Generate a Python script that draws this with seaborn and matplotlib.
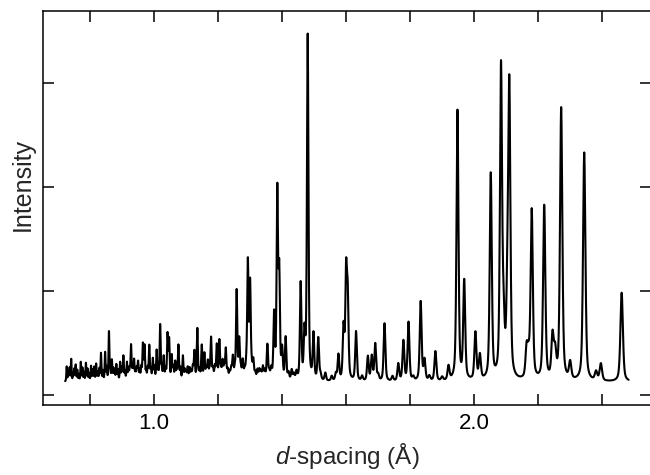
import numpy as np
import pandas as pd
import matplotlib
matplotlib.use("Agg")
import matplotlib.pyplot as plt
import seaborn as sns

# Peak positions (d-spacing, Å) and peak intensities (arb. units)
peak_d = [0.727, 0.741, 0.755, 0.771, 0.787, 0.803, 0.819, 0.834, 0.847, 0.859,
          0.868, 0.882, 0.894, 0.904, 0.915, 0.928, 0.9375, 0.950, 0.965, 0.970,
          0.985, 0.996, 1.008, 1.019, 1.030, 1.042, 1.047, 1.055, 1.066, 1.076,
          1.090, 1.105, 1.126, 1.135, 1.149, 1.157, 1.168, 1.178, 1.196, 1.204,
          1.214, 1.224, 1.246, 1.258, 1.266, 1.277, 1.293, 1.300, 1.310, 1.323,
          1.340, 1.354, 1.375, 1.385, 1.391, 1.400, 1.411, 1.430, 1.458, 1.470,
          1.480, 1.498, 1.513, 1.535, 1.576, 1.592, 1.600, 1.605, 1.631, 1.668,
          1.680, 1.691, 1.720, 1.763, 1.779, 1.795, 1.833, 1.845, 1.879, 1.920,
          1.948, 1.969, 2.004, 2.018, 2.052, 2.084, 2.092, 2.104, 2.110, 2.164,
          2.170, 2.180, 2.219, 2.245, 2.253, 2.272, 2.300, 2.344, 2.381, 2.396,
          2.461]
peak_I = [0.27, 0.34, 0.28, 0.31, 0.30, 0.27, 0.29, 0.39, 0.40, 0.60,
          0.32, 0.28, 0.30, 0.36, 0.30, 0.46, 0.32, 0.30, 0.47, 0.45,
          0.46, 0.33, 0.41, 0.66, 0.35, 0.56, 0.51, 0.36, 0.30, 0.46,
          0.36, 0.25, 0.40, 0.625, 0.46, 0.38, 0.30, 0.53, 0.46, 0.50,
          0.30, 0.42, 0.34, 0.98, 0.50, 0.30, 1.25, 1.04, 0.30, 0.22,
          0.25, 0.46, 0.74, 1.92, 1.12, 0.40, 0.53, 0.22, 1.05, 0.55,
          3.44, 0.56, 0.53, 0.20, 0.37, 0.62, 1.12, 0.88, 0.60, 0.36,
          0.36, 0.48, 0.68, 0.29, 0.51, 0.69, 0.89, 0.32, 0.41, 0.26,
          2.72, 1.07, 0.58, 0.36, 2.10, 3.10, 0.58, 0.80, 2.86, 0.40,
          0.30, 1.75, 1.80, 0.53, 0.37, 2.74, 0.29, 2.32, 0.21, 0.29,
          0.98]
# Small wiggles of the noisy low-d baseline
noise_d = [0.732, 0.736, 0.747, 0.751, 0.760, 0.765, 0.776, 0.781, 0.792, 0.797,
           0.808, 0.813, 0.824, 0.829, 0.840, 0.852, 0.863, 0.873, 0.877, 0.887,
           0.899, 0.909, 0.920, 0.924, 0.933, 0.942, 0.946, 0.955, 0.960, 0.975,
           0.980, 0.990, 1.001, 1.013, 1.024, 1.036, 1.060, 1.071, 1.082, 1.096,
           1.100, 1.111, 1.116, 1.121, 1.142, 1.163, 1.173, 1.184, 1.190, 1.209,
           1.219, 1.230, 1.236, 1.241, 1.252, 1.271, 1.283, 1.288, 1.305, 1.316,
           1.329, 1.334, 1.346, 1.360, 1.366, 1.420, 1.437, 1.445, 1.520, 1.555,
           1.568, 1.650, 1.700, 1.745, 1.810, 1.860, 1.900]
noise_I = [0.22, 0.25, 0.20, 0.24, 0.23, 0.19, 0.25, 0.21, 0.24, 0.20,
           0.23, 0.26, 0.21, 0.24, 0.22, 0.25, 0.21, 0.24, 0.20, 0.23,
           0.25, 0.21, 0.24, 0.22, 0.26, 0.20, 0.24, 0.22, 0.25, 0.21,
           0.24, 0.22, 0.25, 0.20, 0.24, 0.23, 0.25, 0.21, 0.24, 0.22,
           0.20, 0.24, 0.21, 0.25, 0.22, 0.24, 0.20, 0.23, 0.25, 0.21,
           0.24, 0.22, 0.20, 0.23, 0.21, 0.22, 0.20, 0.23, 0.21, 0.19,
           0.22, 0.20, 0.21, 0.19, 0.22, 0.19, 0.18, 0.20, 0.18, 0.17,
           0.19, 0.17, 0.18, 0.17, 0.16, 0.17, 0.16]
background = 0.125
d_start, d_end = 0.722, 2.483

x_ticks = [0.8, 1.0, 1.2, 1.4, 1.6, 1.8, 2.0, 2.2, 2.4]
x_tick_labels = ["", "1.0", "", "", "", "", "2.0", "", ""]
y_ticks = [0, 1, 2, 3]

# Build the profile as a sum of pseudo-Voigt peaks on the background
d = np.arange(d_start, d_end, 0.0004)
inten = np.full_like(d, background)
for p, h in zip(peak_d + noise_d, peak_I + noise_I):
    w = 0.0037 * p
    amp = max(h - background, 0.0)
    g = np.exp(-4 * np.log(2) * ((d - p) / w) ** 2)
    lo = 1.0 / (1.0 + 4 * ((d - p) / w) ** 2)
    inten += amp * (0.5 * g + 0.5 * lo)
df = pd.DataFrame({"d": d, "I": inten})

sns.set_style("ticks")
plt.rcParams["font.family"] = ["Liberation Sans", "DejaVu Sans"]
plt.rcParams["mathtext.fontset"] = "custom"
plt.rcParams["mathtext.it"] = "Liberation Sans:italic"
plt.rcParams["mathtext.rm"] = "Liberation Sans"

fig = plt.figure(figsize=(6.5, 4.75), dpi=100)
ax = fig.add_axes([0.0662, 0.1474, 0.9355, 0.8295])
sns.lineplot(data=df, x="d", y="I", ax=ax, color="black", linewidth=1.5,
             estimator=None, sort=False)

ax.set_xlim(0.653, 2.553)
ax.set_ylim(-0.096, 3.69)
ax.set_xticks(x_ticks)
ax.set_xticklabels(x_tick_labels)
ax.set_yticks(y_ticks)
ax.set_yticklabels([])
ax.tick_params(direction="in", length=8, width=1.1, top=True, right=True,
               labelsize=16, colors="black", pad=6)
for s in ax.spines.values():
    s.set_linewidth(1.1)
    s.set_color("black")
ax.set_xlabel(r"$d$-spacing (Å)", fontsize=17.5, labelpad=5)
ax.set_ylabel("Intensity", fontsize=18)
ax.yaxis.set_label_coords(-0.013, 0.56)

fig.savefig("out.png", dpi=100)
